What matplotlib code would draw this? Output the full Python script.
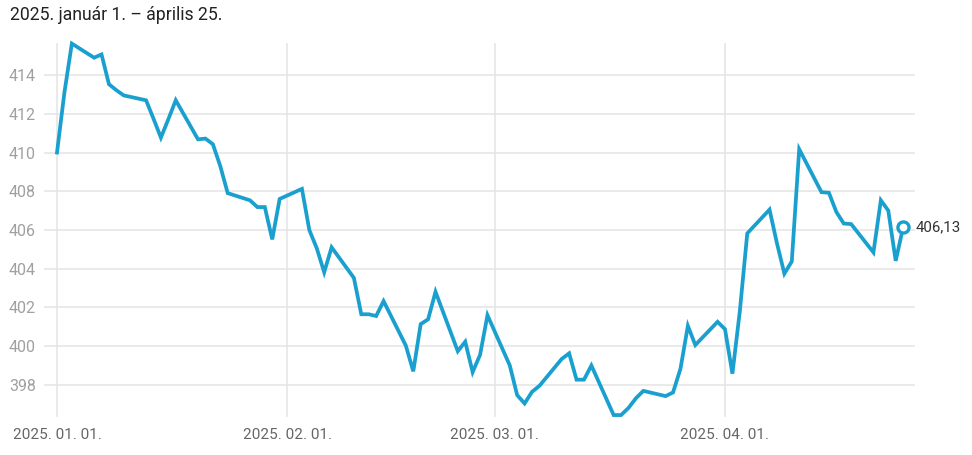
import datetime as dt
import matplotlib
matplotlib.use("Agg")
import matplotlib.pyplot as plt
import matplotlib.dates as mdates

plt.rcParams['font.family'] = ['Roboto', 'DejaVu Sans']

title = "2025. január 1. – április 25."

dates = [
    "2025-01-01", "2025-01-02", "2025-01-03", "2025-01-06", "2025-01-07", "2025-01-08",
    "2025-01-09", "2025-01-10", "2025-01-13", "2025-01-14", "2025-01-15", "2025-01-16",
    "2025-01-17", "2025-01-20", "2025-01-21", "2025-01-22", "2025-01-23", "2025-01-24",
    "2025-01-27", "2025-01-28", "2025-01-29", "2025-01-30", "2025-01-31",
    "2025-02-03", "2025-02-04", "2025-02-05", "2025-02-06", "2025-02-07",
    "2025-02-10", "2025-02-11", "2025-02-12", "2025-02-13", "2025-02-14",
    "2025-02-17", "2025-02-18", "2025-02-19", "2025-02-20", "2025-02-21",
    "2025-02-24", "2025-02-25", "2025-02-26", "2025-02-27", "2025-02-28",
    "2025-03-03", "2025-03-04", "2025-03-05", "2025-03-06", "2025-03-07",
    "2025-03-10", "2025-03-11", "2025-03-12", "2025-03-13", "2025-03-14",
    "2025-03-17", "2025-03-18", "2025-03-19", "2025-03-20", "2025-03-21",
    "2025-03-24", "2025-03-25", "2025-03-26", "2025-03-27", "2025-03-28",
    "2025-03-31", "2025-04-01", "2025-04-02", "2025-04-03", "2025-04-04",
    "2025-04-07", "2025-04-08", "2025-04-09", "2025-04-10", "2025-04-11",
    "2025-04-14", "2025-04-15", "2025-04-16", "2025-04-17", "2025-04-18",
    "2025-04-21", "2025-04-22", "2025-04-23", "2025-04-24", "2025-04-25",
]

values = [
    410.00, 413.10, 415.63, 414.90, 415.07, 413.53,
    413.22, 412.95, 412.70, 411.75, 410.77, 411.72,
    412.70, 410.68, 410.72, 410.43, 409.30, 407.90,
    407.53, 407.18, 407.18, 405.51, 407.60,
    408.12, 405.99, 405.05, 403.81, 405.10,
    403.52, 401.64, 401.64, 401.55, 402.32,
    400.02, 398.69, 401.13, 401.38, 402.80,
    399.73, 400.22, 398.65, 399.54, 401.59,
    399.00, 397.46, 397.03, 397.63, 397.94,
    399.33, 399.62, 398.26, 398.26, 398.99,
    396.43, 396.43, 396.80, 397.30, 397.68,
    397.41, 397.60, 398.82, 401.04, 400.05,
    401.25, 400.87, 398.57, 401.80, 405.82,
    407.05, 405.31, 403.74, 404.37, 410.17,
    407.95, 407.92, 406.93, 406.33, 406.30,
    404.84, 407.53, 407.00, 404.40, 406.13,
]

month_ticks = ["2025-01-01", "2025-02-01", "2025-03-01", "2025-04-01"]
y_ticks = [398, 400, 402, 404, 406, 408, 410, 412, 414]
last_label = "406,13"

x = [dt.datetime.strptime(d, "%Y-%m-%d") for d in dates]
xt = [dt.datetime.strptime(d, "%Y-%m-%d") for d in month_ticks]

W, H = 972, 455
fig = plt.figure(figsize=(W / 100, H / 100), dpi=100)
# axes spans pixel x 44..915, y 43..417
ax = fig.add_axes([44 / W, (H - 417) / H, (915 - 44) / W, (417 - 43) / H])

blue = "#1aa0cf"
grid = "#e4e4e4"

ax.plot(x, values, color=blue, lw=2.7, solid_joinstyle="miter", zorder=3, clip_on=False)
ax.plot([x[-1]], [values[-1]], "o", ms=8, mfc="white", mec=blue, mew=2.4, zorder=4, clip_on=False)
ax.annotate(last_label, (x[-1], values[-1]), xytext=(9, 0), textcoords="offset points",
            va="center", ha="left", fontsize=10.8, color="#333333")

x0 = x[0]
ax.set_xlim(x0 - dt.timedelta(days=1.75), x0 + dt.timedelta(days=115.6))
ax.set_ylim(min(values) - 0.1, max(values) + 0.03)

ax.set_yticks(y_ticks)
ax.set_yticklabels([str(v) for v in y_ticks])
ax.set_xticks(xt)
ax.xaxis.set_major_formatter(mdates.DateFormatter("%Y. %m. %d."))

for v in y_ticks:
    ax.axhline(v, color=grid, lw=1.1, zorder=1)
for t in xt:
    ax.axvline(t, color=grid, lw=1.1, zorder=1)

for s in ax.spines.values():
    s.set_visible(False)
ax.tick_params(axis="y", length=0, pad=6, labelsize=11.5, labelcolor="#a0a0a0")
ax.tick_params(axis="x", length=0, pad=8, labelsize=11, labelcolor="#666666")

fig.text(10 / W, 1 - 15 / H, title, fontsize=12.7, color="#222222", va="center", ha="left")

fig.savefig("out.png", dpi=100)
